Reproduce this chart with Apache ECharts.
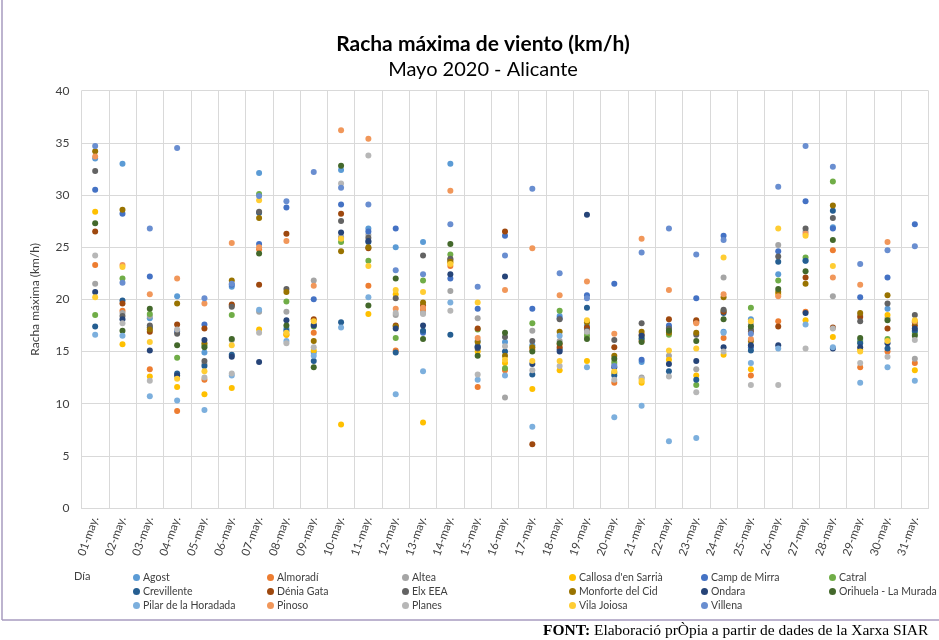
<!DOCTYPE html>
<html><head><meta charset="utf-8">
<script src="https://cdn.jsdelivr.net/npm/echarts@6/dist/echarts.min.js"></script>
<style>html,body{margin:0;padding:0;background:#fff}#c{width:939px;height:640px}</style>
</head><body><div id="c"></div>
<script>
const days = ['01-may.','02-may.','03-may.','04-may.','05-may.','06-may.','07-may.','08-may.','09-may.','10-may.','11-may.','12-may.','13-may.','14-may.','15-may.','16-may.','17-may.','18-may.','19-may.','20-may.','21-may.','22-may.','23-may.','24-may.','25-may.','26-may.','27-may.','28-may.','29-may.','30-may.','31-may.'];
const stations = ['Agost','Almoradí','Altea',"Callosa d'en Sarrià",'Camp de Mirra','Catral','Crevillente','Dénia Gata','Elx EEA','Monforte del Cid','Ondara','Orihuela - La Murada','Pilar de la Horadada','Pinoso','Planes','Vila Joiosa','Villena'];
const agost = [33.5,33.0,18.2,20.3,14.9,21.2,32.1,17.2,14.9,32.4,26.8,25.0,25.5,33.0,16.0,15.9,15.6,18.4,17.5,13.0,14.0,17.3,17.9,16.9,18.1,22.4,23.7,26.9,16.1,19.1,16.9];
const almoradi = [23.3,18.9,13.3,9.3,12.3,19.4,24.8,16.6,16.8,25.9,21.3,15.1,19.0,23.2,11.6,13.2,15.2,15.7,17.2,12.0,16.0,16.9,17.8,16.3,12.7,17.9,18.8,24.7,13.5,15.0,13.9];
const altea = [21.5,18.7,18.4,17.0,13.8,16.1,18.8,18.8,21.8,26.0,26.2,18.5,18.7,20.8,18.2,10.6,17.0,16.0,16.8,13.8,12.5,14.6,13.3,22.1,17.6,25.2,26.5,20.3,18.5,18.2,14.3];
const callosa = [28.4,15.7,12.6,11.6,10.9,11.5,17.1,16.6,15.1,8.0,18.6,20.5,8.2,23.5,15.0,13.9,11.4,13.2,14.1,12.9,12.0,14.2,12.7,14.7,13.3,20.5,18.0,16.4,15.2,18.5,13.2];
const campMirra = [30.5,28.2,22.2,16.9,17.6,21.4,25.3,28.8,20.0,29.1,26.5,26.8,16.8,22.0,19.1,26.1,19.1,18.2,20.4,21.5,14.2,17.5,20.1,26.1,15.4,24.6,29.4,26.8,20.2,22.1,27.2];
const catral = [18.5,22.0,18.6,14.4,15.6,18.5,30.1,19.8,17.4,25.5,23.7,16.3,21.8,24.3,17.1,13.4,17.7,18.9,16.5,14.0,16.3,16.6,11.8,18.9,19.2,21.8,24.0,31.3,15.9,16.2,16.7];
const crevillente = [17.4,19.9,17.3,12.9,13.6,14.7,28.3,17.0,14.1,17.8,25.5,14.9,17.0,16.6,15.5,15.0,12.8,15.2,19.2,12.7,16.2,13.1,12.3,18.7,15.1,23.6,23.7,28.5,15.8,15.3,17.0];
const deniaGata = [26.5,19.6,16.9,17.6,17.2,19.5,21.4,26.3,18.1,28.2,24.9,17.5,19.4,23.8,17.2,26.5,6.1,15.4,17.3,15.4,16.6,18.1,18.0,18.8,16.9,17.4,22.1,17.3,18.3,17.2,17.5];
const elxEEA = [32.3,18.4,17.5,16.7,14.1,19.3,28.4,21.0,17.6,27.5,25.9,20.1,24.2,23.9,15.3,16.4,16.0,18.1,17.0,16.1,17.7,17.2,16.6,19.0,17.1,24.1,26.8,27.8,17.9,19.6,18.5];
const monforte = [34.2,28.6,17.1,19.6,15.8,21.8,27.8,20.7,16.0,24.6,25.0,17.4,19.7,23.6,15.9,14.6,15.4,16.9,17.8,14.6,16.9,16.8,16.8,20.2,16.0,20.7,21.5,29.0,18.7,20.4,17.8];
const ondara = [20.7,18.1,15.1,12.7,16.1,14.5,14.0,18.0,17.5,26.4,25.6,17.2,17.5,22.4,15.4,22.2,13.8,15.0,28.1,13.5,16.5,13.8,14.1,15.4,15.6,15.6,18.7,15.3,15.4,15.8,17.2];
const orihuela = [27.3,17.0,19.1,15.6,15.4,16.2,24.4,17.5,13.5,32.8,19.4,22.0,16.2,25.3,14.6,16.8,15.0,15.8,16.2,14.3,15.9,17.0,16.0,18.1,17.4,21.0,22.7,25.7,16.3,18.0,16.5];
const pilar = [16.6,16.5,10.7,10.3,9.4,12.7,19.0,16.0,14.6,17.3,20.2,10.9,13.1,19.7,12.3,12.7,7.8,16.5,13.5,8.7,9.8,6.4,6.7,16.8,13.9,15.3,17.6,15.4,12.0,13.5,12.2];
const pinoso = [33.7,23.3,20.5,22.0,19.6,25.4,25.0,25.6,21.3,36.2,35.4,19.1,19.2,30.4,16.3,20.9,24.9,20.4,21.7,16.7,25.8,20.9,17.7,20.5,16.2,20.3,26.3,22.1,21.4,25.5,17.9];
const planes = [24.2,17.7,12.2,17.1,12.5,12.9,16.8,15.8,15.4,31.1,33.8,18.7,18.6,18.9,12.8,15.5,13.2,13.6,16.9,12.3,12.4,12.6,11.1,15.0,11.8,11.8,15.3,17.2,13.9,14.5,16.1];
const vilaJoiosa = [20.2,23.1,15.9,12.4,13.1,15.6,29.5,16.8,17.9,25.8,23.2,20.9,20.7,23.4,19.7,14.2,14.1,14.1,18.0,13.1,12.2,15.1,15.3,24.0,17.9,26.8,26.1,23.2,15.0,16.0,18.0];
const villena = [34.7,21.6,26.8,34.5,20.1,21.5,29.9,29.4,32.2,30.7,29.1,22.8,22.4,27.2,21.2,24.2,30.6,22.5,20.1,13.6,24.5,26.8,24.3,25.7,16.7,30.8,34.7,32.7,23.4,24.7,25.1];

const seriesData = [agost,almoradi,altea,callosa,campMirra,catral,crevillente,deniaGata,elxEEA,monforte,ondara,orihuela,pilar,pinoso,planes,vilaJoiosa,villena];
const colors = ['#5B9BD5','#ED7D31','#A5A5A5','#FFC000','#4472C4','#70AD47','#255E91','#9E480E','#636363','#997300','#264478','#43682B','#7CAFDD','#F1975A','#B7B7B7','#FFCD33','#698ED0'];

const FONT = 'Lato';
const colX = [133, 267, 402, 569, 701, 829];
const rowY = [572, 586, 600];
const legends = stations.map((s, i) => ({
  data: [s], left: colX[i % 6], top: rowY[Math.floor(i / 6)],
  icon: 'circle', itemWidth: 7, itemHeight: 7, itemGap: 0,
  textStyle: { fontFamily: FONT, fontSize: 10.5, color: '#404040', padding: [0,0,0,-2] },
  padding: 0, selectedMode: false
}));

const chart = echarts.init(document.getElementById('c'));
chart.setOption({
  animation: false,
  color: colors,
  textStyle: { fontFamily: FONT },
  title: [
    { text: 'Racha máxima de viento (km/h)', left: 478, top: 29, textAlign: 'center',
      textStyle: { fontFamily: FONT, fontSize: 21, fontWeight: 'bold', color: '#000' } },
    { text: 'Mayo 2020 - Alicante', left: 478, top: 55, textAlign: 'center',
      textStyle: { fontFamily: FONT, fontSize: 20, fontWeight: 'normal', color: '#000' } }
  ],
  legend: legends,
  grid: { left: 81.5, right: 10.5, top: 90.7, bottom: 132 },
  xAxis: {
    type: 'category', data: days, boundaryGap: true,
    axisLine: { lineStyle: { color: '#d9d9d9' } },
    axisTick: { show: false },
    splitLine: { show: true, interval: 0, lineStyle: { color: '#d9d9d9' } },
    axisLabel: { interval: 0, rotate: 70, fontFamily: FONT, fontSize: 11.5, color: '#404040', margin: 9 }
  },
  yAxis: {
    type: 'value', min: 0, max: 40, interval: 5,
    name: 'Racha máxima (km/h)', nameLocation: 'middle', nameGap: 40, nameRotate: 90,
    nameTextStyle: { fontFamily: FONT, fontSize: 12, color: '#404040' },
    axisLine: { show: false }, axisTick: { show: false },
    splitLine: { lineStyle: { color: '#d9d9d9' } },
    axisLabel: { fontFamily: FONT, fontSize: 12, color: '#404040', margin: 12 }
  },
  series: stations.map((s, i) => ({
    name: s, type: 'scatter', data: seriesData[i], symbolSize: 6,
    itemStyle: { color: colors[i], opacity: 1 }
  })),
  graphic: [
    { type: 'text', left: 74, top: 571, style: { text: 'Día', fontFamily: FONT, fontSize: 11, fill: '#404040' } },
    { type: 'line', shape: { x1: 2, y1: 0, x2: 2, y2: 620 }, style: { stroke: '#a79bbf', lineWidth: 1.5 } },
    { type: 'line', shape: { x1: 2, y1: 620, x2: 939, y2: 620 }, style: { stroke: '#a79bbf', lineWidth: 1.5 } },
    { type: 'text', left: 543, top: 623, style: {
        text: '{b|FONT:} Elaboració prÒpia a partir de dades de la Xarxa SIAR',
        fontFamily: 'Liberation Serif', fontSize: 15.5, fill: '#000',
        rich: { b: { fontFamily: 'Liberation Serif', fontSize: 15.5, fontWeight: 'bold', fill: '#000' } } } }
  ]
});
</script></body></html>
